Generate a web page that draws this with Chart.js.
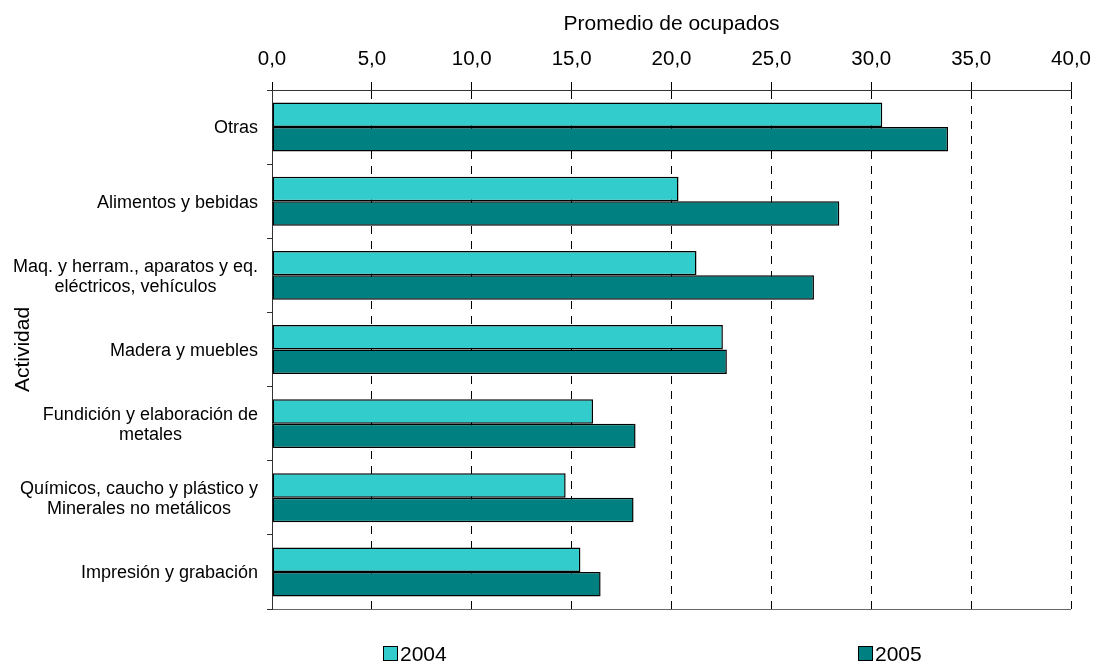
<!DOCTYPE html>
<html>
<head>
<meta charset="utf-8">
<script src="https://cdn.jsdelivr.net/npm/chart.js@4/dist/chart.umd.min.js"></script>
<style>
  html, body { margin: 0; padding: 0; background: #ffffff; }
  #wrap { width: 1101px; height: 664px; }
</style>
</head>
<body>
<div id="wrap"><canvas id="c" width="1101" height="664"></canvas></div>
<script>
// ---- data ----
const categories = [
  'Otras',
  'Alimentos y bebidas',
  ['Maq. y herram., aparatos y eq.', 'eléctricos, vehículos'],
  'Madera y muebles',
  ['Fundición y elaboración de', 'metales'],
  ['Químicos, caucho y plástico y', 'Minerales no metálicos'],
  'Impresión y grabación'
];
const seriesNames = ['2004', '2005'];
const values2004 = [30.55, 20.35, 21.25, 22.57, 16.07, 14.70, 15.44];
const values2005 = [33.84, 28.40, 27.13, 22.77, 18.20, 18.10, 16.45];
const xTickValues = [0, 5, 10, 15, 20, 25, 30, 35, 40];
const xTitle = 'Promedio de ocupados';
const yTitle = 'Actividad';

const FONT = "'Liberation Sans', Arial, Helvetica, sans-serif";

// Category labels: right-aligned block, lines centred within the block
const categoryLabelPlugin = {
  id: 'categoryLabels',
  afterDraw(chart) {
    const ys = chart.scales.y;
    const ctx = chart.ctx;
    const size = 18, lh = 20;
    const rightEdge = ys.right - 5 - 9;
    ctx.save();
    ctx.font = size + 'px ' + FONT;
    ctx.fillStyle = '#000';
    ctx.textAlign = 'center';
    ctx.textBaseline = 'alphabetic';
    chart.data.labels.forEach((lab, i) => {
      const lines = Array.isArray(lab) ? lab : [lab];
      const w = Math.max(...lines.map(l => ctx.measureText(l).width));
      const cx = rightEdge - w / 2;
      const cy = ys.getPixelForTick(i);
      lines.forEach((l, k) => {
        const mid = cy + (k - (lines.length - 1) / 2) * lh;
        ctx.fillText(l, cx, mid + 6.4);
      });
    });
    ctx.restore();
  }
};

// Legend at bottom with two widely spaced items
const legendPlugin = {
  id: 'bottomLegend',
  afterDraw(chart) {
    const ctx = chart.ctx;
    const xs = [383, 858];
    const boxY = 646, box = 14;
    ctx.save();
    ctx.font = '21px ' + FONT;
    ctx.textBaseline = 'alphabetic';
    ctx.textAlign = 'left';
    chart.data.datasets.forEach((ds, i) => {
      const x = xs[i];
      ctx.fillStyle = ds.backgroundColor;
      ctx.fillRect(x + 0.5, boxY + 0.5, box, box);
      ctx.strokeStyle = '#000';
      ctx.lineWidth = 1;
      ctx.strokeRect(x + 0.5, boxY + 0.5, box, box);
      ctx.fillStyle = '#000';
      ctx.fillText(ds.label, x + box + 3, boxY + box + 1);
    });
    ctx.restore();
  }
};

new Chart(document.getElementById('c'), {
  type: 'bar',
  data: {
    labels: categories,
    datasets: [
      {
        label: seriesNames[0],
        data: values2004,
        backgroundColor: '#33CCCC',
        borderColor: '#000000',
        borderWidth: 1.5,
        borderSkipped: false
      },
      {
        label: seriesNames[1],
        data: values2005,
        backgroundColor: '#008080',
        borderColor: '#000000',
        borderWidth: 1.5,
        borderSkipped: false
      }
    ]
  },
  options: {
    indexAxis: 'y',
    responsive: false,
    animation: false,
    devicePixelRatio: 1,
    datasets: { bar: { categoryPercentage: 0.66, barPercentage: 1.0 } },
    layout: { padding: { left: 0, top: 0, right: 24, bottom: 55 } },
    plugins: {
      legend: { display: false },
      tooltip: { enabled: false },
      title: { display: false }
    },
    scales: {
      x: {
        position: 'top',
        min: xTickValues[0],
        max: xTickValues[xTickValues.length - 1],
        afterBuildTicks(scale) {
          scale.ticks = xTickValues.map(v => ({ value: v }));
        },
        afterFit(scale) { scale.height = 90; },
        ticks: {
          padding: 10,
          color: '#000',
          font: { family: FONT, size: 20.5 },
          maxRotation: 0,
          callback: v => Number(v).toFixed(1).replace('.', ',')
        },
        grid: {
          color: '#000',
          lineWidth: 1,
          tickLength: 8,
          tickColor: '#000',
          tickBorderDash: []
        },
        border: { display: true, color: '#333', width: 1, dash: [8, 7] },
        title: {
          display: true,
          text: xTitle,
          color: '#000',
          font: { family: FONT, size: 21 },
          padding: { top: 12, bottom: 0 }
        }
      },
      y: {
        position: 'left',
        afterFit(scale) { scale.width = 272; },
        ticks: { display: false },
        grid: {
          offset: true,
          color: ctx => (ctx.type === 'scale' ? '#666' : 'rgba(0,0,0,0)'),
          tickColor: '#333',
          tickLength: 5,
          lineWidth: 1
        },
        border: { display: true, color: '#333', width: 1 },
        title: {
          display: true,
          text: yTitle,
          color: '#000',
          font: { family: FONT, size: 21 },
          padding: { top: 11, bottom: 0 }
        }
      }
    }
  },
  plugins: [categoryLabelPlugin, legendPlugin]
});
</script>
</body>
</html>
